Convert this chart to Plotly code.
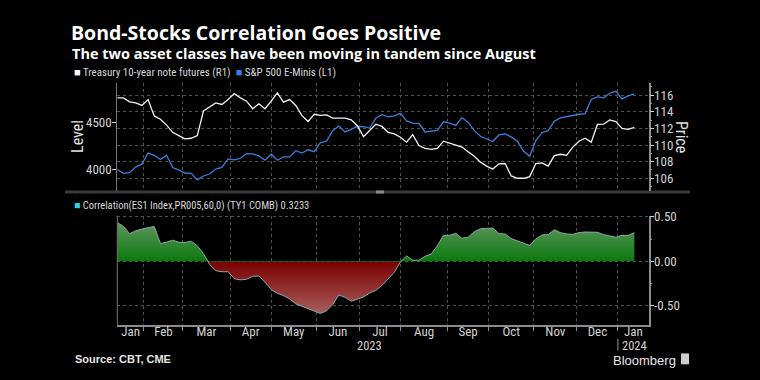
import pandas as pd
import plotly.graph_objects as go

# ---------------- data ----------------
HOLIDAYS = ["2023-01-16", "2023-02-20", "2023-05-29", "2023-06-19", "2023-07-04",
            "2023-09-04", "2023-11-23", "2023-12-25", "2024-01-01", "2024-01-15"]
DATA_START = "2023-01-12"
DATA_END = "2024-01-12"
AXIS_LAST_DAY = "2024-01-23"
AXIS_END = "2024-01-24"
MONTH_NAMES = ["Jan", "Feb", "Mar", "Apr", "May", "Jun", "Jul", "Aug", "Sep", "Oct", "Nov", "Dec"]
YEAR_LABELS = ["2023", "2024"]

# Treasury 10-year note futures (R1), sampled every 3rd trading day
treasury = [115.69, 115.69, 115.21, 115.09, 114.78, 115.49, 113.51, 113.12, 112.41, 111.54,
            111.14, 110.74, 110.82, 111.14, 114.11, 114.58, 115.09, 114.90, 115.49, 116.20,
            115.69, 115.29, 114.38, 114.98, 114.38, 115.29, 116.28, 115.17, 115.49, 114.78,
            113.55, 112.84, 113.71, 113.59, 113.63, 113.24, 113.28, 113.24, 113.04, 112.33,
            111.02, 111.73, 112.52, 112.25, 111.54, 111.34, 110.94, 110.35, 111.26, 109.95,
            109.60, 109.48, 109.60, 110.47, 110.23, 109.95, 109.76, 109.20, 108.65, 107.94,
            107.46, 107.11, 107.74, 107.78, 106.28, 106.00, 106.00, 106.20, 107.78, 107.86,
            107.46, 108.73, 108.89, 108.77, 109.76, 110.47, 110.82, 110.35, 112.49, 112.52,
            113.04, 112.84, 112.01, 111.89, 112.13]

# S&P 500 E-Minis (L1)
sp500 = [3996, 3954, 3961, 4024, 4053, 4172, 4148, 4102, 4148, 4017,
         3989, 3958, 3954, 3884, 3926, 3947, 4000, 4017, 4109, 4098,
         4116, 4165, 4162, 4141, 4095, 4162, 4095, 4130, 4130, 4197,
         4172, 4207, 4186, 4285, 4299, 4412, 4461, 4398, 4426, 4457,
         4454, 4440, 4545, 4584, 4559, 4570, 4598, 4517, 4493, 4489,
         4398, 4405, 4415, 4507, 4493, 4468, 4552, 4500, 4412, 4352,
         4320, 4295, 4366, 4376, 4345, 4299, 4193, 4137, 4306, 4390,
         4412, 4514, 4549, 4563, 4574, 4588, 4595, 4746, 4774, 4764,
         4813, 4834, 4753, 4785, 4806]

# 60-day correlation
corr = [0.437, 0.392, 0.311, 0.344, 0.363, 0.377, 0.392, 0.200, 0.214, 0.237,
        0.214, 0.211, 0.226, 0.174, 0.085, -0.037, -0.108, -0.119, -0.119, -0.197,
        -0.211, -0.204, -0.171, -0.167, -0.237, -0.319, -0.363, -0.389, -0.426, -0.482,
        -0.511, -0.537, -0.560, -0.590, -0.560, -0.489, -0.382, -0.408, -0.452, -0.426,
        -0.404, -0.360, -0.330, -0.274, -0.204, -0.126, -0.008, 0.059, 0.011, 0.011,
        0.055, 0.081, 0.174, 0.292, 0.292, 0.314, 0.259, 0.270, 0.333, 0.366,
        0.370, 0.374, 0.311, 0.307, 0.255, 0.229, 0.207, 0.177, 0.251, 0.296,
        0.300, 0.355, 0.322, 0.307, 0.303, 0.322, 0.329, 0.326, 0.326, 0.300,
        0.289, 0.270, 0.292, 0.289, 0.3233]

# ---------------- dates ----------------
trading = pd.bdate_range(DATA_START, DATA_END, freq="C", holidays=HOLIDAYS)
idx = list(range(0, len(trading), 3))
if idx[-1] != len(trading) - 1:
    idx.append(len(trading) - 1)
dates = trading[idx]

cal = pd.bdate_range(DATA_START, AXIS_LAST_DAY, freq="C", holidays=HOLIDAYS)
cal_df = pd.DataFrame({"d": cal, "i": range(len(cal))})
cal_df["ym"] = cal_df["d"].dt.to_period("M")
month_starts, label_pos, label_txt = [], [], []
for ym, g in cal_df.groupby("ym"):
    first, last = g["i"].min(), g["i"].max()
    if first > 0:
        month_starts.append(cal[first])
    mid = (first + last + 1) / 2.0
    base = int(mid)
    frac = mid - base
    label_pos.append(cal[base] + pd.Timedelta(hours=24 * frac))
    label_txt.append(MONTH_NAMES[ym.month - 1])

# ---------------- geometry helpers ----------------
W, H = 760, 380
def px(x):
    return x / W
def py(y):
    return 1 - y / H

XL, XR = 117.3, 648.7
TOP_T, TOP_B = 78, 188
BOT_T, BOT_B = 213, 324

BG = "#000000"
GRID = "#505050"
AXLINE = "#8c8c8c"
TICKC = "#d2d2d2"
TXT = "#d8d8d8"
FNARROW = "Liberation Sans Narrow, Roboto Condensed, Roboto, sans-serif"
FTITLE = "Open Sans, Roboto, Liberation Sans, sans-serif"
FSANS = "Liberation Sans, Arial, sans-serif"

rb = [dict(bounds=["sat", "mon"]), dict(values=HOLIDAYS)]

fig = go.Figure()
fig.add_trace(go.Scatter(x=dates, y=sp500, xaxis="x2", yaxis="y", mode="lines",
                         line=dict(color="#3b7fdc", width=1.3), showlegend=False,
                         name="S&P 500 E-Minis (L1)"))
fig.add_trace(go.Scatter(x=dates, y=treasury, xaxis="x2", yaxis="y2", mode="lines",
                         line=dict(color="#f2f2f2", width=1.3), showlegend=False,
                         name="Treasury 10-year note futures (R1)"))

Y3_LO, Y3_HI = -0.719, 0.514
zf = (0 - Y3_LO) / (Y3_HI - Y3_LO)
fig.add_trace(go.Scatter(x=dates, y=corr, xaxis="x", yaxis="y3", mode="lines",
                         fill="tozeroy",
                         fillgradient=dict(type="vertical", start=Y3_LO, stop=Y3_HI,
                                           colorscale=[[0.0, "#b57575"], [zf, "#7a0000"],
                                                       [zf, "#0a780c"], [1.0, "#6d9c6d"]]),
                         line=dict(color="#86aaa8", width=1), showlegend=False,
                         name="Correlation"))

minor_x = dict(tickmode="array", tickvals=month_starts, showgrid=True, gridcolor=GRID,
               griddash="dot", gridwidth=1, ticks="outside", ticklen=4, tickcolor=AXLINE)
minor_x_top = dict(tickmode="array", tickvals=month_starts, showgrid=True, gridcolor=GRID,
                   griddash="dot", gridwidth=1, ticks="")

fig.update_layout(
    width=W, height=380, margin=dict(l=0, r=0, t=0, b=0),
    paper_bgcolor=BG, plot_bgcolor=BG,
    xaxis=dict(domain=[px(XL), px(XR)], anchor="y3", type="date",
               range=[DATA_START, AXIS_END], rangebreaks=rb,
               tickmode="array", tickvals=label_pos, ticktext=label_txt, ticks="",
               ticklabelstandoff=-6,
               tickfont=dict(family=FNARROW, size=13, color=TICKC),
               showgrid=False, zeroline=False, showline=True, linecolor=AXLINE, linewidth=1.5,
               minor=minor_x),
    xaxis2=dict(domain=[px(XL), px(XR)], anchor="y", type="date", matches="x",
                range=[DATA_START, AXIS_END], rangebreaks=rb,
                showticklabels=False, ticks="", showgrid=False, zeroline=False,
                showline=False, minor=minor_x_top),
    yaxis=dict(domain=[py(TOP_B), py(TOP_T)], anchor="x2", side="left",
               range=[3764.6, 4925.4], tickmode="array", tickvals=[4000, 4500],
               ticks="outside", ticklen=4, tickcolor=TICKC, ticklabelstandoff=-2,
               tickfont=dict(family=FNARROW, size=13, color=TICKC),
               showgrid=False, zeroline=False, showline=True, linecolor="#777777", linewidth=1),
    yaxis2=dict(overlaying="y", anchor="x2", side="right",
                range=[104.46, 117.51], tick0=0, dtick=2,
                ticks="outside", ticklen=4, tickcolor=TICKC, ticklabelstandoff=-3,
                tickfont=dict(family=FNARROW, size=13, color=TICKC),
                showgrid=True, gridcolor=GRID, griddash="dot", gridwidth=1,
                minor=dict(dtick=1, tick0=0, ticks="outside", ticklen=2, tickcolor="#9a9a9a", showgrid=False),
                zeroline=False, showline=True, linecolor=AXLINE, linewidth=1.5),
    yaxis3=dict(domain=[py(BOT_B), py(BOT_T)], anchor="x", side="right",
                range=[Y3_LO, Y3_HI], tickmode="array", tickvals=[-0.5, 0, 0.5],
                ticktext=["-0.50", "0.00", "0.50"],
                ticks="outside", ticklen=4, tickcolor=TICKC, ticklabelstandoff=-3,
                tickfont=dict(family=FNARROW, size=13, color=TICKC),
                showgrid=True, gridcolor=GRID, griddash="dot", gridwidth=1,
                minor=dict(tickmode="array", tickvals=[-0.25, 0.25], ticks="outside", ticklen=2,
                           tickcolor="#9a9a9a", showgrid=False),
                zeroline=False, showline=True, linecolor=AXLINE, linewidth=1.5),
)

shapes = [
    # separator bar between panels
    dict(type="rect", xref="paper", yref="paper", x0=px(65), x1=px(690), y0=py(190.5), y1=py(187.5),
         fillcolor="#3a3a3a", line=dict(width=0), layer="below"),
    dict(type="rect", xref="paper", yref="paper", x0=px(376), x1=px(384), y0=py(190.5), y1=py(187.5),
         fillcolor="#8a8a8a", line=dict(width=0), layer="below"),
    # left border of lower panel
    dict(type="line", xref="paper", yref="paper", x0=px(XL), x1=px(XL), y0=py(BOT_T), y1=py(BOT_B),
         line=dict(color="#777777", width=1)),
    # year separator
    dict(type="line", xref="x", yref="paper", x0=month_starts[-1], x1=month_starts[-1],
         y0=py(338), y1=py(350), line=dict(color="#9a9a9a", width=1)),
    # Bloomberg icon
    dict(type="rect", xref="paper", yref="paper", x0=px(681), x1=px(689), y0=py(364), y1=py(353),
         fillcolor="#cfcfcf", line=dict(width=0)),
]

ann = [
    dict(text="<b>Bond-Stocks Correlation Goes Positive</b>", x=px(69), y=py(26.5),
         font=dict(family=FTITLE, size=19.5, color="#ffffff")),
    dict(text="<b>The two asset classes have been moving in tandem since August</b>", x=px(70), y=py(48.5),
         font=dict(family=FTITLE, size=14.5, color="#ffffff")),
    dict(text='<span style="color:#ffffff">■</span> Treasury 10-year note futures (R1)  '
              '<span style="color:#2f7fe8">■</span> S&amp;P 500 E-Minis (L1)',
         x=px(72), y=py(68), font=dict(family=FNARROW, size=11, color=TXT)),
    dict(text='<span style="color:#2ad4e4">■</span> Correlation(ES1 Index,PR005,60,0) (TY1 COMB) 0.3233',
         x=px(72), y=py(203), font=dict(family=FNARROW, size=10.5, color=TXT)),
    dict(text="Level", x=px(78), y=py(133), xanchor="center", textangle=-90,
         font=dict(family=FNARROW, size=16, color="#e0e0e0")),
    dict(text="Price", x=px(681), y=py(133), xanchor="center", textangle=90,
         font=dict(family=FNARROW, size=16, color="#e0e0e0")),
    dict(text=YEAR_LABELS[0], x=px(369), y=py(345), xanchor="center",
         font=dict(family=FNARROW, size=12.5, color=TICKC)),
    dict(text=YEAR_LABELS[1], x=px(634), y=py(345), xanchor="center",
         font=dict(family=FNARROW, size=12.5, color=TICKC)),
    dict(text="<b>Source: CBT, CME</b>", x=px(73), y=py(359),
         font=dict(family=FSANS, size=11, color="#e6e6e6")),
    dict(text="Bloomberg", x=px(678), y=py(360), xanchor="right",
         font=dict(family=FSANS, size=13, color="#e6e6e6")),
]
for a in ann:
    a.setdefault("xanchor", "left")
    a.setdefault("yanchor", "middle")
    a["xref"] = "paper"
    a["yref"] = "paper"
    a["showarrow"] = False

fig.update_layout(shapes=shapes, annotations=ann)
fig.write_html("out.html", config={"displayModeBar": False},
               post_script="document.body.style.margin='0';document.body.style.background='#000';")
